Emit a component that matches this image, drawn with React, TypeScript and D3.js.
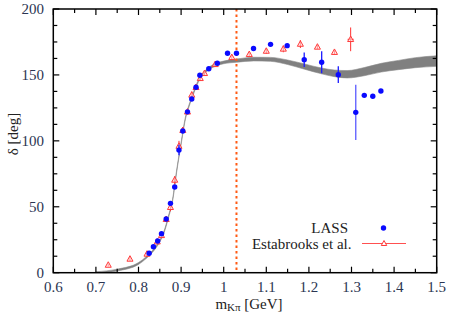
import React from "react";
import * as d3 from "d3";

const lassMass = [0.825, 0.835, 0.845, 0.854, 0.865, 0.875, 0.885, 0.895, 0.904, 0.915, 0.925, 0.935, 0.944, 0.965, 0.985, 1.009, 1.03, 1.07, 1.11, 1.149, 1.189, 1.23, 1.269, 1.31, 1.33, 1.35, 1.369];
const lassPhase = [14.7, 19.7, 24, 29.6, 40.7, 52.6, 65, 93, 107.5, 122, 131.7, 140.6, 149.7, 154.7, 158.8, 166.4, 166.4, 170, 173.2, 172.2, 161.6, 159.6, 150.2, 121.6, 134.5, 133.8, 137.8];
const lassErr = [1, 1, 1, 1, 1, 1, 1, 4, 1, 1, 1, 1, 1, 1, 1, 1, 1, 1, 1, 1, 5.5, 8.3, 6.3, 21, 1, 1, 1];

const estMass = [0.729, 0.78, 0.82, 0.844, 0.854, 0.865, 0.875, 0.885, 0.895, 0.904, 0.915, 0.925, 0.935, 0.945, 0.955, 0.98, 1.019, 1.06, 1.1, 1.14, 1.18, 1.22, 1.26, 1.298];
const estPhase = [5.8, 10.4, 14.2, 23.5, 28.3, 40.5, 49.6, 70.3, 96, 108, 122, 134.8, 140.6, 147.4, 151.2, 158, 163.3, 165.6, 168.1, 169.7, 173.4, 171.2, 167.2, 177];
const estErr = [1, 1.5, 2, 2, 2, 2, 3, 3, 4, 2, 2, 2.5, 2, 2, 1.5, 1.5, 2, 1.5, 2, 2.5, 3, 1.5, 1.5, 9];

const bandMass = [0.7, 0.75, 0.8, 0.82, 0.84, 0.85, 0.86, 0.87, 0.88, 0.89, 0.9, 0.91, 0.92, 0.93, 0.94, 0.96, 0.98, 1.0, 1.03, 1.07, 1.11, 1.15, 1.19, 1.23, 1.26, 1.29, 1.33, 1.37, 1.41, 1.45, 1.5];
const bandCenter = [0, 2, 7, 12, 19, 24, 31, 42, 55, 78, 98, 117, 128, 137, 145, 153.5, 157.5, 159.5, 160.8, 162, 161.8, 159.6, 156.3, 153, 151.2, 150.5, 152.5, 155.5, 157.5, 159.3, 160.5];
const bandHalf = [0.7, 0.7, 0.7, 0.7, 0.7, 0.7, 0.7, 0.8, 0.8, 0.8, 0.8, 0.8, 0.8, 0.8, 0.8, 0.9, 1, 1, 1.2, 1.4, 1.5, 1.7, 2, 2.2, 2.5, 2.8, 3.1, 3.3, 3.5, 3.8, 4];

const xTicks = [0.6, 0.7, 0.8, 0.9, 1.0, 1.1, 1.2, 1.3, 1.4, 1.5];
const yTicks = [0, 50, 100, 150, 200];
const thresholdMass = [1.03];

const W = 450, H = 315;
const L = 53.3, R = 436.7, T = 9, B = 272.7;

export default function App() {
  const x = d3.scaleLinear().domain([0.6, 1.5]).range([L, R]);
  const y = d3.scaleLinear().domain([0, 200]).range([B, T]);
  const band = bandMass.map((m, i) => ({ m, c: bandCenter[i], h: bandHalf[i] }));
  const area = d3.area<any>().x(d => x(d.m)).y0(d => y(d.c - d.h)).y1(d => y(d.c + d.h)).curve(d3.curveMonotoneX);
  const xMinor = d3.range(0, 19).map(i => 0.6 + i * 0.05);
  const yMinor = d3.range(0, 17).map(i => i * 12.5);
  const fs = { fontFamily: '"Liberation Serif", "DejaVu Serif", "Times New Roman", serif' };
  const tickColor = "#2b3552";
  const tri = (cx: number, cy: number, s: number) =>
    `M${cx},${cy - s * 0.6}L${cx + s * 0.55},${cy + s * 0.4}L${cx - s * 0.55},${cy + s * 0.4}Z`;

  return (
    <svg width={W} height={H} style={{ position: "absolute", left: 0, top: 0 }}>
      <rect width={W} height={H} fill="#fff" />
      <defs>
        <clipPath id="plot"><rect x={L} y={T} width={R - L} height={B - T} /></clipPath>
      </defs>
      <g clipPath="url(#plot)">
        <path d={area(band) || ""} fill="#808080" stroke="#8a8a8a" strokeWidth={0.6} />
      </g>
      {thresholdMass.map((m, i) => (
        <line key={i} x1={x(m)} x2={x(m)} y1={T} y2={B} stroke="#ff5a14" strokeWidth={2} strokeDasharray="2.5,3" />
      ))}
      {estMass.map((m, i) => (
        <g key={"e" + i}>
          <line x1={x(m)} x2={x(m)} y1={y(estPhase[i] - estErr[i])} y2={y(estPhase[i] + estErr[i])} stroke="#ff3030" strokeWidth={1} />
          {estErr[i] > 5 && <line x1={x(m) - 3} x2={x(m) + 3} y1={y(estPhase[i])} y2={y(estPhase[i])} stroke="#ff3030" strokeWidth={1} />}
          <path d={tri(x(m), y(estPhase[i]), 5.5)} fill="#ffe0e0" fillOpacity={0.6} stroke="#ff3a3a" strokeWidth={1} />
        </g>
      ))}
      {lassMass.map((m, i) => (
        <g key={"l" + i}>
          {lassErr[i] > 3 && (
            <line x1={x(m)} x2={x(m)} y1={y(lassPhase[i] - lassErr[i])} y2={y(lassPhase[i] + lassErr[i])} stroke={lassErr[i] > 15 ? "#5a5aff" : "#1a1aff"} strokeWidth={1.3} />
          )}
          <circle cx={x(m)} cy={y(lassPhase[i])} r={2.7} fill="#0a0aff" />
        </g>
      ))}
      <rect x={L} y={T} width={R - L} height={B - T} fill="none" stroke="#000" strokeWidth={1.5} />
      {xMinor.map((v, i) => {
        const major = i % 2 === 0;
        const len = major ? 6 : 4;
        return (
          <g key={"xt" + i}>
            <line x1={x(v)} x2={x(v)} y1={B} y2={B - len} stroke="#000" strokeWidth={1.2} />
            <line x1={x(v)} x2={x(v)} y1={T} y2={T + len} stroke="#000" strokeWidth={1.2} />
          </g>
        );
      })}
      {yMinor.map((v, i) => {
        const major = i % 4 === 0;
        const len = major ? 6 : 4;
        return (
          <g key={"yt" + i}>
            <line x1={L} x2={L + len} y1={y(v)} y2={y(v)} stroke="#000" strokeWidth={1.2} />
            <line x1={R} x2={R - len} y1={y(v)} y2={y(v)} stroke="#000" strokeWidth={1.2} />
          </g>
        );
      })}
      {xTicks.map((v, i) => (
        <text key={"xl" + i} x={x(v)} y={291.5} textAnchor="middle" fontSize={15} fill={tickColor} style={fs}>
          {d3.format("~g")(v)}
        </text>
      ))}
      {yTicks.map((v, i) => (
        <text key={"yl" + i} x={44} y={y(v) + 5} textAnchor="end" fontSize={15} fill={tickColor} style={fs}>
          {v}
        </text>
      ))}
      <text x={249} y={308.5} textAnchor="middle" fontSize={15} fill="#222" style={fs}>
        m<tspan fontSize={11} dy={2.5}>Kπ</tspan><tspan dy={-2.5}>{"  [GeV]"}</tspan>
      </text>
      <text transform="translate(18,134) rotate(-90)" textAnchor="middle" fontSize={15} fill="#222" style={fs}>
        δ  [deg]
      </text>
      <text x={348} y={233} textAnchor="end" fontSize={15} fill="#222" style={fs}>LASS</text>
      <circle cx={383.5} cy={228} r={2.7} fill="#0a0aff" />
      <text x={351.5} y={248.5} textAnchor="end" fontSize={15} fill="#222" style={fs}>Estabrooks et al.</text>
      <line x1={362} x2={406} y1={243.5} y2={243.5} stroke="#ff5050" strokeWidth={1} />
      <path d={tri(384, 243.5, 5)} fill="#fff" stroke="#ff3a3a" strokeWidth={1} />
    </svg>
  );
}
